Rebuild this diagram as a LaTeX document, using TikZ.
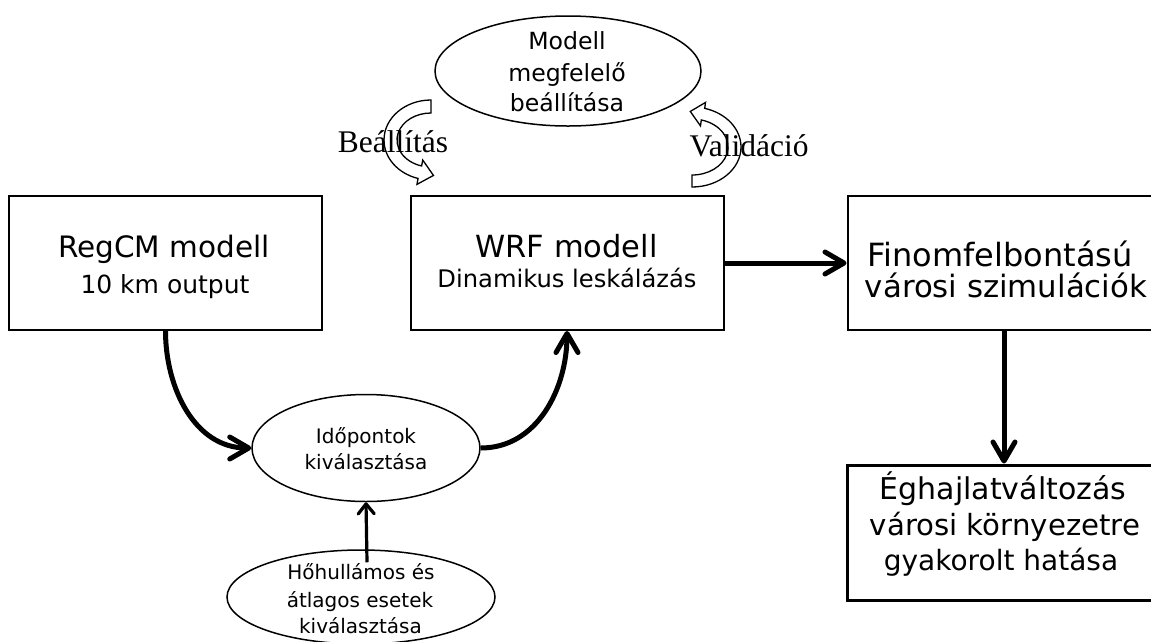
\documentclass[tikz,border=0pt]{standalone}
\usepackage{fontspec}
\setmainfont{DejaVu Sans}
\newfontfamily\serifont{Liberation Serif}
\usetikzlibrary{arrows.meta,shapes.geometric,calc}
\newcommand{\fsz}[1]{\fontsize{#1}{#1}\selectfont}
\begin{document}
\begin{tikzpicture}[x=1pt,y=1pt,
  box/.style={draw, line width=2pt, rectangle, minimum width=313pt, minimum height=134pt, inner sep=0pt},
  oval/.style={draw, line width=1.5pt, ellipse, inner sep=0pt},
  txt/.style={anchor=base, inner sep=0pt},
  bigarrow/.style={line width=5pt, -{Straight Barb[length=19pt,width=22pt,round]}},
  smallarrow/.style={line width=3.2pt, -{Straight Barb[length=10pt,width=16pt,round]}},
  hollow/.style={draw=black, line width=1.3pt, fill=white, line join=miter},
  lbl/.style={font=\serifont\fsz{31.5}, anchor=base, inner sep=0pt}]
\useasboundingbox (0,0) rectangle (1151,-641);
\clip (0,0) rectangle (1151,-641);

% ellipses
\node[oval, minimum width=266pt, minimum height=110pt] (modell) at (568,-71) {};
\node[txt, font=\fsz{23.6}] (modellA) at (567,-49) {Modell};
\node[txt, font=\fsz{23.6}] (modellB) at (567,-81) {megfelelő};
\node[txt, font=\fsz{23.6}] (modellC) at (567,-111) {beállítása};

\node[oval, minimum width=228pt, minimum height=107pt] (ido) at (366,-448) {};
\node[txt, font=\fsz{20}] (idoA) at (366,-443) {Időpontok};
\node[txt, font=\fsz{20}] (idoB) at (366,-469) {kiválasztása};

\node[oval, minimum width=268pt, minimum height=94pt] (hoh) at (361,-597) {};
\node[txt, font=\fsz{20}] (hohA) at (361,-579) {Hőhullámos és};
\node[txt, font=\fsz{20}] (hohB) at (360,-607) {átlagos esetek};
\node[txt, font=\fsz{20}] (hohC) at (360.5,-633) {kiválasztása};

% boxes
\node[box] (regcm) at (165.5,-263) {};
\node[txt, font=\fsz{29.5}] (regcmA) at (164,-257) {RegCM modell};
\node[txt, font=\fsz{25}] (regcmB) at (165,-293) {10 km output};

\node[box] (wrf) at (567,-263) {};
\node[txt, font=\fsz{30.5}] (wrfA) at (566.5,-257) {WRF modell};
\node[txt, font=\fsz{24.2}] (wrfB) at (567,-287) {Dinamikus leskálázás};

\node[box] (finom) at (1004,-263) {};
\node[txt, font=\fsz{32}] (finomA) at (1000,-266) {Finomfelbontású};
\node[txt, font=\fsz{30.8}] (finomB) at (1006,-297) {városi szimulációk};

\node[box, line width=3pt, minimum height=135pt] (egh) at (1004,-532.5) {};
\node[txt, font=\fsz{30}] (eghA) at (1003,-499) {Éghajlatváltozás};
\node[txt, font=\fsz{29.2}] (eghB) at (1005,-535) {városi környezetre};
\node[txt, font=\fsz{28}] (eghC) at (1001,-570) {gyakorolt hatása};

% connectors
\coordinate (hohtop) at ($(hoh.north)+(6,-13)$);
\draw[bigarrow] (regcm.south) to[out=-90,in=180] (ido.west);
\draw[bigarrow] (ido.east) to[out=0,in=-90] (wrf.south);
\draw[bigarrow] (wrf.east) -- (finom.west);
\draw[bigarrow] (finom.south) -- (egh.north);
\draw[smallarrow] (hohtop) -- (ido.south);

% hollow curved arrows
\draw[hollow] (431,-100) arc[start angle=90,end angle=254,x radius=47,y radius=40]
  -- (416.95,-184.36) -- (433.46,-175.43) -- (422.73,-160.04) -- (421.63,-165.96)
  arc[start angle=254,end angle=90,x radius=34,y radius=27] -- cycle;
\draw[hollow] (692,-187) arc[start angle=-90,end angle=75,x radius=49,y radius=40]
  -- (705.52,-102.42) -- (690.29,-111.43) -- (700.48,-125.9) -- (701.32,-119.95)
  arc[start angle=75,end angle=-90,x radius=36,y radius=28] -- cycle;

\node[lbl] (beall) at (393,-152) {Beállítás};
\node[lbl] (valid) at (749,-156) {Validáció};
\end{tikzpicture}
\end{document}
